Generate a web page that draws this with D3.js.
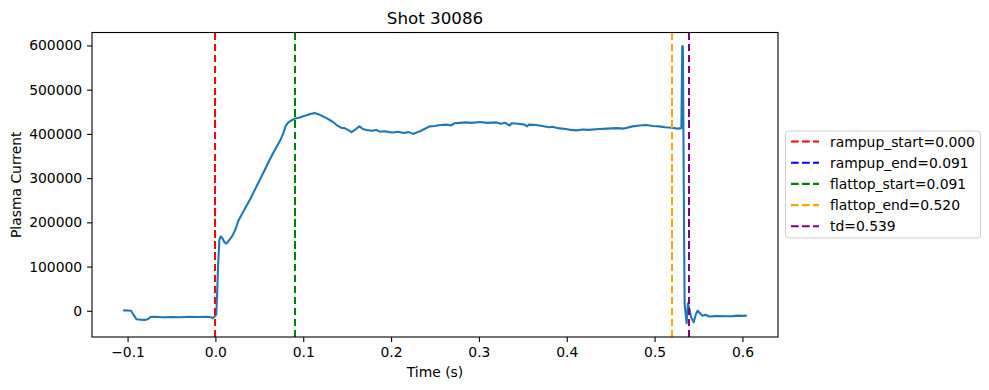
<!DOCTYPE html>
<html><head><meta charset="utf-8">
<script src="https://cdn.jsdelivr.net/npm/d3@7"></script>
<style>body{margin:0;background:#fff}svg{display:block}text{font-family:"DejaVu Sans",sans-serif}</style>
</head><body><svg id="c" width="989" height="390"></svg>
<script>
const title = "Shot 30086";
const xLabel = "Time (s)";
const yLabel = "Plasma Current";
const time = [-0.105,-0.100,-0.096,-0.093,-0.090,-0.085,-0.080,-0.077,-0.074,-0.070,-0.060,-0.050,-0.040,-0.030,-0.020,-0.010,-0.005,-0.003,-0.001,
0.001,0.002,0.003,0.0045,0.006,0.008,0.010,0.012,0.014,0.017,0.020,0.023,0.026,0.030,0.035,0.040,0.045,0.050,0.055,0.060,0.065,0.070,0.074,0.077,0.080,0.083,0.087,0.091,0.096,0.100,0.104,0.108,0.113,0.118,0.123,0.128,0.133,0.138,0.143,0.147,0.151,0.155,0.160,0.164,0.168,0.172,0.178,0.183,0.187,0.193,0.198,0.202,0.208,0.214,0.220,0.225,0.229,0.233,0.238,0.244,0.250,0.256,0.263,0.268,0.272,0.278,0.285,0.292,0.301,0.310,0.320,0.325,0.330,0.335,0.337,0.345,0.352,0.355,0.357,0.365,0.372,0.380,0.384,0.390,0.399,0.405,0.411,0.418,0.425,0.437,0.446,0.456,0.465,0.475,0.483,0.490,0.498,0.505,0.512,0.520,0.526,0.5305,0.5315,0.5322,0.5335,0.5342,0.5355,0.5365,0.5380,0.5395,0.5415,0.5445,0.5470,0.5490,0.5520,0.5545,0.5580,0.5620,0.5700,0.5800,0.5890,0.5950,0.6000,0.6050];
const current = [1000,500,0,-10000,-19000,-20000,-20500,-19000,-14000,-13500,-14500,-14000,-14500,-13500,-14000,-13500,-14500,-17000,-13000,
-8000,40000,100000,160000,168000,164000,156000,152000,155000,163000,172000,185000,203000,218000,236000,254000,274000,294000,314000,334000,354000,372000,386000,400000,418000,426000,431000,435000,437000,440000,442000,445000,447000,444000,439000,434000,428000,420000,414000,413000,409000,404000,411000,417000,411000,409000,407000,409000,405000,406000,404000,403000,405000,402000,404000,400000,403000,406000,411000,417000,418000,420000,421000,419000,424000,425000,426000,425000,427000,425000,426000,423000,425000,419000,424000,423000,421000,417000,421000,420000,418000,415000,416000,413000,411000,409000,408000,410000,409000,411000,412000,413000,412000,417000,419000,420000,418000,417000,415000,414000,412000,413000,598000,598000,200000,16000,-10000,-28000,17000,5000,-14000,-26000,-8000,0,-6000,-11000,-9000,-13000,-12000,-12500,-12000,-11000,-11500,-11000];
const markerNames = ["rampup_start","rampup_end","flattop_start","flattop_end","td"];
const markerTimes = [0.000,0.091,0.091,0.520,0.539];
const markerColors = ["red","blue","green","orange","purple"];
const xTicks = [-0.1,0,0.1,0.2,0.3,0.4,0.5,0.6];
const yTicks = [0,100000,200000,300000,400000,500000,600000];

const svg = d3.select("#c");
const L=92, R=778, T=32.5, B=337;
const xmin=d3.min(time), xmax=d3.max(time), ymin=d3.min(current), ymax=d3.max(current);
const xp=(xmax-xmin)*0.05, yp=(ymax-ymin)*0.05;
const x=d3.scaleLinear().domain([xmin-xp,xmax+xp]).range([L,R]);
const y=d3.scaleLinear().domain([ymin-yp,ymax+yp]).range([B,T]);

svg.append("defs").append("clipPath").attr("id","clip").append("rect").attr("x",L).attr("y",T).attr("width",R-L).attr("height",B-T);

const line=d3.line().x((d,i)=>x(time[i])).y((d,i)=>y(current[i]));
svg.append("path").datum(current).attr("d",line).attr("fill","none").attr("stroke","#1f77b4").attr("stroke-width",2.1).attr("stroke-linejoin","round").attr("clip-path","url(#clip)");

markerTimes.forEach((t,i)=>{
  const px=Math.round(x(t));
  svg.append("line").attr("x1",px).attr("x2",px).attr("y1",T).attr("y2",B)
    .attr("stroke",markerColors[i]).attr("stroke-width",2).attr("stroke-dasharray","7.7,3.3")
    .attr("shape-rendering","crispEdges");
});

const xa=svg.append("g").attr("transform",`translate(0,${B})`).call(d3.axisBottom(x).tickValues(xTicks).tickFormat(d3.format(".1f")).tickSize(4.9).tickPadding(4.9));
const ya=svg.append("g").attr("transform",`translate(${L},0)`).call(d3.axisLeft(y).tickValues(yTicks).tickFormat(d3.format("d")).tickSize(4.9).tickPadding(4.9));
[xa,ya].forEach(a=>{a.select(".domain").remove();a.selectAll("line").attr("stroke","#000").attr("stroke-width",1.1);a.selectAll("text").attr("font-size",13.9).attr("fill","#000").attr("font-family","DejaVu Sans");});

svg.append("rect").attr("x",L).attr("y",T).attr("width",R-L).attr("height",B-T).attr("fill","none").attr("stroke","#000").attr("stroke-width",1.1);

svg.append("text").attr("x",(L+R)/2).attr("y",24).attr("text-anchor","middle").attr("font-size",16.7).text(title);
svg.append("text").attr("x",(L+R)/2).attr("y",377).attr("text-anchor","middle").attr("font-size",13.9).text(xLabel);
svg.append("text").attr("transform",`translate(21,${(T+B)/2}) rotate(-90)`).attr("text-anchor","middle").attr("font-size",13.9).text(yLabel);

const lg=svg.append("g");
lg.append("rect").attr("x",785.5).attr("y",131).attr("width",195).attr("height",107).attr("rx",3).attr("fill","#fff").attr("stroke","#d0d0d0").attr("stroke-width",1);
markerNames.forEach((n,i)=>{
  const yy=141.5+i*21.2;
  lg.append("line").attr("x1",791).attr("x2",819).attr("y1",yy).attr("y2",yy).attr("stroke",markerColors[i]).attr("stroke-width",2.1).attr("stroke-dasharray","7.7,3.3");
  lg.append("text").attr("x",830).attr("y",yy+5).attr("font-size",13.9).text(n+"="+markerTimes[i].toFixed(3));
});
</script></body></html>
